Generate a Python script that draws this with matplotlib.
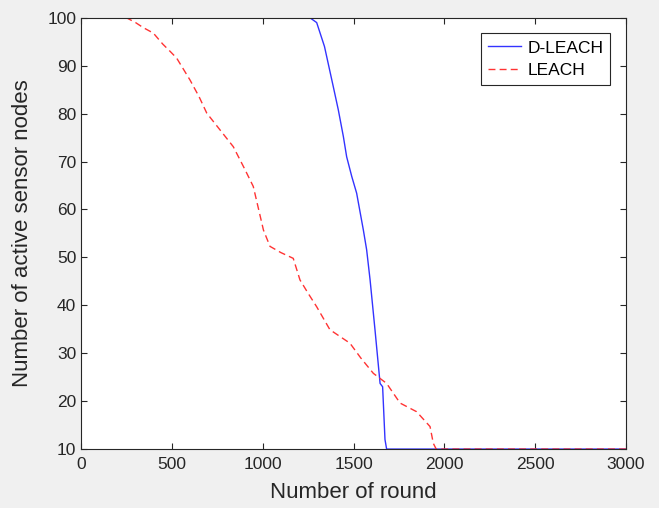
import matplotlib
matplotlib.use('Agg')
import matplotlib.pyplot as plt

plt.rcParams['font.family'] = ['Liberation Sans', 'DejaVu Sans']

# D-LEACH: rounds and active nodes
dleach_round = [0, 1260, 1297, 1340, 1388, 1416, 1444, 1462, 1490, 1517,
                1554, 1572, 1591, 1618, 1646, 1660, 1673, 1682, 3000]
dleach_nodes = [100, 100, 99, 94, 85.7, 80.8, 75.2, 71, 66.9, 63.4,
                55.7, 51.6, 45.3, 34.9, 23.7, 23, 12, 10, 10]

# LEACH
leach_round = [0, 250, 300, 340, 398, 450, 490, 526, 600, 650, 692, 765, 838,
               900, 948, 1004, 1040, 1100, 1168, 1205, 1250, 1297, 1370,
               1425, 1480, 1540, 1609, 1682, 1756, 1847, 1921, 1939, 1955, 3000]
leach_nodes = [100, 100, 99, 98, 96.8, 94.5, 93, 91.6, 87, 83.5, 80.1, 76.6, 73.1,
               68.5, 64.8, 55.7, 52.3, 51, 49.8, 45.3, 42.5, 39.7, 34.9,
               33.5, 32.1, 29, 25.8, 23.7, 19.6, 17.8, 14.7, 11.2, 10, 10]

fig = plt.figure(figsize=(6.59, 5.08), dpi=100, facecolor='#f0f0f0')
ax = fig.add_axes([0.123, 0.116, 0.827, 0.849])
ax.plot(dleach_round, dleach_nodes, color='#3333ff', lw=1.0, label='D-LEACH')
ax.plot(leach_round, leach_nodes, color='#ff3333', lw=1.0, ls=(0, (5, 3)), label='LEACH')

ax.set_xlim(0, 3000)
ax.set_ylim(10, 100)
ax.set_xticks(range(0, 3001, 500))
ax.set_yticks(range(10, 101, 10))
ax.tick_params(direction='in', labelsize=12.5, length=4, colors='#262626',
               top=True, right=True)
ax.tick_params(axis='x', pad=6)
for s in ax.spines.values():
    s.set_color('#262626')
    s.set_linewidth(0.8)
ax.set_xlabel('Number of round', fontsize=16, color='#262626', labelpad=7)
ax.set_ylabel('Number of active sensor nodes', fontsize=16, color='#262626', labelpad=10)

leg = ax.legend(loc='upper right', fontsize=12.5, fancybox=False, framealpha=1,
                edgecolor='#262626', borderaxespad=0.9, handlelength=1.9,
                borderpad=0.4, labelspacing=0.45, handletextpad=0.4)
leg.get_frame().set_linewidth(0.8)

fig.savefig('out.png', dpi=100, facecolor=fig.get_facecolor())
